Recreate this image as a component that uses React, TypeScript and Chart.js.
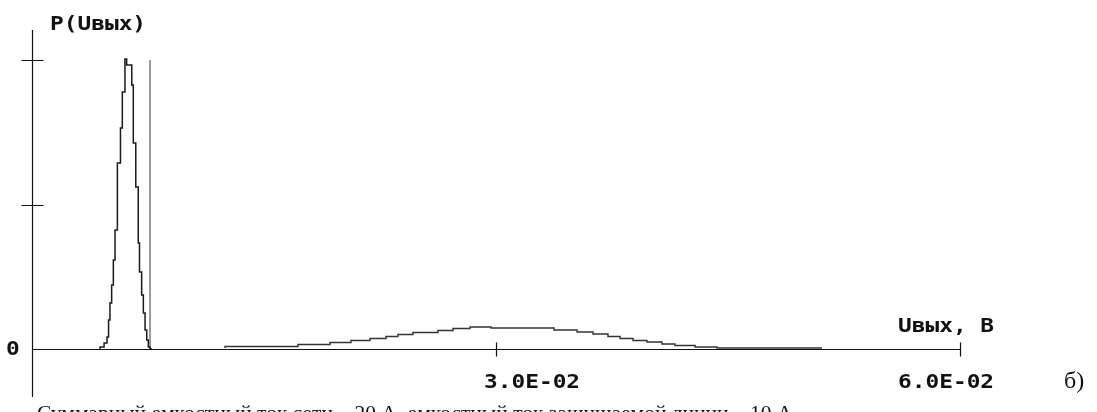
import React, { useEffect, useRef } from 'react';
import { Chart, registerables } from 'chart.js';

Chart.register(...registerables);

// Narrow distribution (stepped), x in volts, y relative probability
const narrowX = [0.00440, 0.00466, 0.00485, 0.00495, 0.00504, 0.00515, 0.00526, 0.00537, 0.00552, 0.00572, 0.00584, 0.00601, 0.00612, 0.00645, 0.00655, 0.00671, 0.00687, 0.00695, 0.00709, 0.00720, 0.00731, 0.00742, 0.00752, 0.00763, 0.00776];
const narrowY = [0.0, 0.0069, 0.0208, 0.0415, 0.1003, 0.1592, 0.2215, 0.308, 0.4118, 0.6436, 0.7647, 0.8893, 1.0035, 0.9827, 0.9135, 0.7128, 0.5606, 0.3668, 0.2664, 0.1869, 0.1246, 0.0657, 0.0311, 0.0069, 0.0];

// Wide distribution (stepped)
const wideX = [0.01248, 0.01720, 0.01927, 0.02062, 0.02185, 0.02289, 0.02366, 0.02463, 0.02625, 0.02722, 0.02832, 0.02968, 0.03375, 0.03524, 0.03627, 0.03724, 0.03802, 0.03886, 0.03976, 0.04073, 0.04157, 0.04287, 0.04429, 0.04623, 0.05108];
const wideY = [0.0035, 0.0087, 0.0156, 0.0225, 0.0294, 0.0363, 0.0433, 0.0502, 0.0571, 0.0640, 0.0709, 0.0761, 0.0727, 0.0657, 0.0588, 0.0519, 0.0433, 0.0363, 0.0294, 0.0242, 0.0173, 0.0121, 0.0069, 0.0035, 0.0035];

// Threshold marker
const markerX = [0.00763, 0.00763];
const markerY = [0.0, 1.0];

const xTicks = [0.03, 0.06];
const xTickLabels = ['3.0E-02', '6.0E-02'];
const yTicks = [0, 0.5, 1.0];
const yTickLabels = ['0', '', ''];

const yTitle = 'P(Uвых)';
const xTitle = 'Uвых, В';
const caption = 'Суммарный емкостный ток сети – 20 А, емкостный ток защищаемой линии – 10 А';
const panelLabel = 'б)';

const toPoints = (xs: number[], ys: number[]) => xs.map((x, i) => ({ x, y: ys[i] }));

const drawDos = (ctx: CanvasRenderingContext2D, text: string, x: number, y: number) => {
  ctx.save();
  ctx.translate(x, y);
  ctx.scale(1.2, 1);
  ctx.fillText(text, 0, 0);
  ctx.restore();
};

const axesPlugin = {
  id: 'dosAxes',
  beforeDatasetsDraw(chart: any) {
    const { ctx, chartArea } = chart;
    const xs = chart.scales.x;
    const ys = chart.scales.y;
    const x0 = Math.round(xs.getPixelForValue(0)) + 0.5;
    const y0 = Math.round(ys.getPixelForValue(0)) + 0.5;
    const xEnd = Math.round(xs.getPixelForValue(xTicks[xTicks.length - 1])) + 0.5;
    ctx.save();
    ctx.strokeStyle = '#111';
    ctx.lineWidth = 1.2;
    ctx.beginPath();
    ctx.moveTo(x0, chartArea.top);
    ctx.lineTo(x0, chartArea.bottom);
    ctx.moveTo(x0, y0);
    ctx.lineTo(xEnd, y0);
    yTicks.forEach((v) => {
      if (v === 0) return;
      const py = Math.round(ys.getPixelForValue(v)) + 0.5;
      ctx.moveTo(x0 - 11, py);
      ctx.lineTo(x0 + 11, py);
    });
    xTicks.forEach((v) => {
      const px = Math.round(xs.getPixelForValue(v)) + 0.5;
      ctx.moveTo(px, y0 - 7);
      ctx.lineTo(px, y0 + 7);
    });
    ctx.stroke();
    ctx.restore();
  },
  afterDraw(chart: any) {
    const { ctx } = chart;
    const xs = chart.scales.x;
    const ys = chart.scales.y;
    const x0 = xs.getPixelForValue(0);
    const y0 = ys.getPixelForValue(0);
    const xEnd = xs.getPixelForValue(xTicks[xTicks.length - 1]);
    ctx.save();
    ctx.fillStyle = '#111';
    ctx.font = 'bold 19px "DejaVu Sans Mono"';
    ctx.textBaseline = 'middle';
    ctx.textAlign = 'left';
    drawDos(ctx, yTitle, x0 + 18, 25);
    yTicks.forEach((v, i) => {
      if (!yTickLabels[i]) return;
      drawDos(ctx, yTickLabels[i], x0 - 26, ys.getPixelForValue(v) + 1);
    });
    const labelOffsets = [-12, -62];
    xTicks.forEach((v, i) => {
      drawDos(ctx, xTickLabels[i], xs.getPixelForValue(v) + labelOffsets[i], y0 + 34);
    });
    drawDos(ctx, xTitle, xEnd - 62, y0 - 22);
    ctx.font = '21.5px "Liberation Serif"';
    ctx.textBaseline = 'alphabetic';
    ctx.fillText(caption, 37, 420);
    ctx.font = '24px "Liberation Serif"';
    ctx.fillText(panelLabel, 1064, 388);
    ctx.restore();
  },
};

export default function App() {
  const canvasRef = useRef<HTMLCanvasElement | null>(null);

  useEffect(() => {
    if (!canvasRef.current) return;
    const chart = new Chart(canvasRef.current, {
      type: 'line',
      data: {
        datasets: [
          {
            data: toPoints(narrowX, narrowY),
            borderColor: '#1a1a1a',
            borderWidth: 1.5,
            pointRadius: 0,
            stepped: 'after',
            fill: false,
          },
          {
            data: toPoints(wideX, wideY),
            borderColor: '#333',
            borderWidth: 1.4,
            pointRadius: 0,
            stepped: 'after',
            fill: false,
          },
          {
            data: toPoints(markerX, markerY),
            borderColor: '#6e6e6e',
            borderWidth: 1.4,
            pointRadius: 0,
            fill: false,
          },
        ],
      },
      options: {
        responsive: false,
        animation: false,
        parsing: false as any,
        layout: { padding: { left: 32, right: 137, top: 30, bottom: 15 } },
        plugins: { legend: { display: false }, tooltip: { enabled: false }, title: { display: false } },
        scales: {
          x: { type: 'linear', min: 0, max: 0.06, display: false },
          y: { type: 'linear', min: -0.166, max: 1.104, display: false },
        },
      },
      plugins: [axesPlugin],
    });
    return () => chart.destroy();
  }, []);

  return (
    <div style={{ position: 'fixed', left: 0, top: 0, width: 1097, height: 412, background: '#fff' }}>
      <canvas ref={canvasRef} width={1097} height={412} style={{ display: 'block' }} />
    </div>
  );
}
